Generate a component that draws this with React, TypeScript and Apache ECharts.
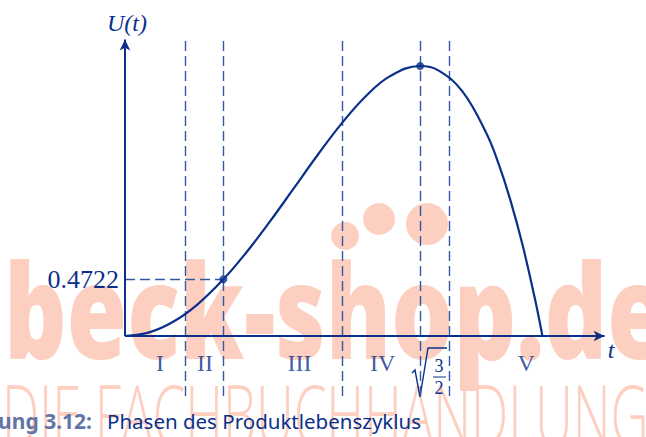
import React, { useEffect, useRef } from "react";
import * as echarts from "echarts";

// Curve U(t), values
const curveT = [0, 0.1, 0.2, 0.3, 0.4082, 0.5, 0.6, 0.7, 0.8, 0.9, 1.0, 1.1, 1.2247, 1.3, 1.4, 1.5, 1.55, 1.6, 1.65, 1.7, 1.732];
const curveU = [0, 0.0299, 0.1184, 0.2619, 0.4722, 0.6875, 0.9504, 1.2299, 1.5104, 1.7739, 2.0, 2.1659, 2.25, 2.2139, 2.0384, 1.6875, 1.4355, 1.1264, 0.7555, 0.3179, 0];
// Phase boundaries (dashed verticals)
const phaseBounds = [0.2515, 0.4082, 0.8995, 1.2247, 1.3463];
// Phase labels
const phaseNames = ["I", "II", "III", "IV", "V"];
const phaseLabelT = [0.145, 0.332, 0.724, 1.069, 1.665];
const phaseLabelU = -0.229;
// Marked points
const markedT = [0.4082, 1.2247];
const markedU = [0.4722, 2.25];
const yTickLabel = "0.4722";
// Axis ranges
const xMin = 0;
const xMax = 2.0;
const yMin = -0.5;
const yMax = 2.5;

const C = "#0a308b";
const DASH = "#3558a3";
const WM = "#fdcfc0";
const SERIF = '"Liberation Serif", "DejaVu Serif", serif';

export default function App() {
  const ref = useRef<HTMLDivElement>(null);
  useEffect(() => {
    document.body.style.margin = "0";
    if (!ref.current) return;
    const chart = echarts.init(ref.current, null, { renderer: "svg" });
    const curve = curveT.map((t, i) => [t, curveU[i]]);
    const dots = markedT.map((t, i) => [t, markedU[i]]);
    const phases = phaseNames.map((n, i) => ({ name: n, value: [phaseLabelT[i], phaseLabelU] }));
    const dashed: any[] = phaseBounds.map((t) => [{ coord: [t, yMin] }, { coord: [t, yMax] }]);
    dashed.push([
      {
        coord: [0, markedU[0]],
        label: {
          show: true,
          position: "start",
          formatter: yTickLabel,
          fontFamily: SERIF,
          fontSize: 26,
          color: C,
          distance: 6,
        },
      },
      { coord: [markedT[0], markedU[0]] },
    ]);
    chart.setOption({
      animation: false,
      grid: { left: 125, top: 36, width: 482, height: 360 },
      xAxis: { type: "value", min: xMin, max: xMax, show: false },
      yAxis: { type: "value", min: yMin, max: yMax, show: false },
      graphic: [
        {
          type: "text",
          x: 4,
          y: 308,
          scaleX: 0.74,
          z: -10,
          silent: true,
          style: {
            text: "beck-shop.de",
            fontFamily: '"Open Sans", sans-serif',
            fontWeight: 800,
            fontSize: 132,
            fill: WM,
            verticalAlign: "middle",
            align: "left",
          },
        },
        { type: "circle", z: -10, silent: true, shape: { cx: 345, cy: 236, r: 14 }, style: { fill: WM } },
        { type: "circle", z: -10, silent: true, shape: { cx: 379, cy: 219, r: 16 }, style: { fill: WM } },
        { type: "circle", z: -10, silent: true, shape: { cx: 427, cy: 224, r: 21 }, style: { fill: WM } },
        {
          type: "text",
          x: 2,
          y: 413,
          scaleX: 0.64,
          z: -10,
          silent: true,
          style: {
            text: "DIE FACHBUCHHANDLUNG",
            fontFamily: '"Open Sans", sans-serif',
            fontWeight: 300,
            fontSize: 82,
            fill: WM,
            verticalAlign: "middle",
            align: "left",
          },
        },
        {
          type: "text",
          x: 127,
          y: 23,
          style: { text: "U(t)", fontFamily: SERIF, fontStyle: "italic", fontSize: 24, fill: C, align: "center", verticalAlign: "middle" },
        },
        {
          type: "text",
          x: 611,
          y: 350,
          style: { text: "t", fontFamily: SERIF, fontStyle: "italic", fontSize: 24, fill: C, align: "center", verticalAlign: "middle" },
        },
        {
          type: "polyline",
          shape: { points: [[412, 373], [415, 370], [420, 397], [428, 348], [447, 348]] },
          style: { stroke: C, lineWidth: 1.4, fill: "none" },
        },
        {
          type: "text",
          x: 439,
          y: 366,
          style: { text: "3", fontFamily: SERIF, fontSize: 18, fill: C, align: "center", verticalAlign: "middle" },
        },
        { type: "line", shape: { x1: 433, y1: 377, x2: 446, y2: 377 }, style: { stroke: C, lineWidth: 1 } },
        {
          type: "text",
          x: 439,
          y: 388,
          style: { text: "2", fontFamily: SERIF, fontSize: 18, fill: C, align: "center", verticalAlign: "middle" },
        },
        {
          type: "text",
          x: 92,
          y: 421,
          style: {
            text: "Abbildung 3.12:",
            fontFamily: '"Noto Sans", sans-serif',
            fontWeight: "bold",
            fontSize: 21,
            fill: "#6474a6",
            align: "right",
            verticalAlign: "middle",
          },
        },
        {
          type: "text",
          x: 107,
          y: 421,
          style: {
            text: "Phasen des Produktlebenszyklus",
            fontFamily: '"Noto Sans", sans-serif',
            fontSize: 20.5,
            fill: C,
            align: "left",
            verticalAlign: "middle",
          },
        },
      ],
      series: [
        {
          type: "line",
          name: "guides",
          data: [],
          silent: true,
          markLine: {
            silent: true,
            symbol: ["none", "none"],
            label: { show: false },
            lineStyle: { color: DASH, width: 1.4, type: [10, 5] },
            emphasis: { disabled: true },
            data: dashed,
          },
        },
        {
          type: "line",
          name: "axes",
          data: [],
          silent: true,
          z: 4,
          markLine: {
            silent: true,
            symbol: ["none", "arrow"],
            symbolSize: [8, 11],
            label: { show: false },
            lineStyle: { color: C, width: 2, type: "solid" },
            emphasis: { disabled: true },
            data: [
              [{ coord: [0, 0] }, { coord: [xMax - 0.01, 0] }],
              [{ coord: [0, 0] }, { coord: [0, yMax - 0.03] }],
            ],
          },
        },
        {
          type: "line",
          name: "U",
          data: curve,
          smooth: 0.4,
          symbol: "none",
          z: 5,
          lineStyle: { color: C, width: 2.2 },
        },
        {
          type: "scatter",
          name: "points",
          data: dots,
          symbolSize: 8,
          z: 6,
          itemStyle: { color: C },
        },
        {
          type: "scatter",
          name: "phases",
          data: phases,
          symbolSize: 1,
          itemStyle: { color: "rgba(0,0,0,0)" },
          label: {
            show: true,
            position: "inside",
            formatter: (p: any) => p.name,
            fontFamily: SERIF,
            fontSize: 24,
            color: C,
          },
        },
      ],
    });
    return () => chart.dispose();
  }, []);
  return <div ref={ref} style={{ width: 646, height: 437 }} />;
}
